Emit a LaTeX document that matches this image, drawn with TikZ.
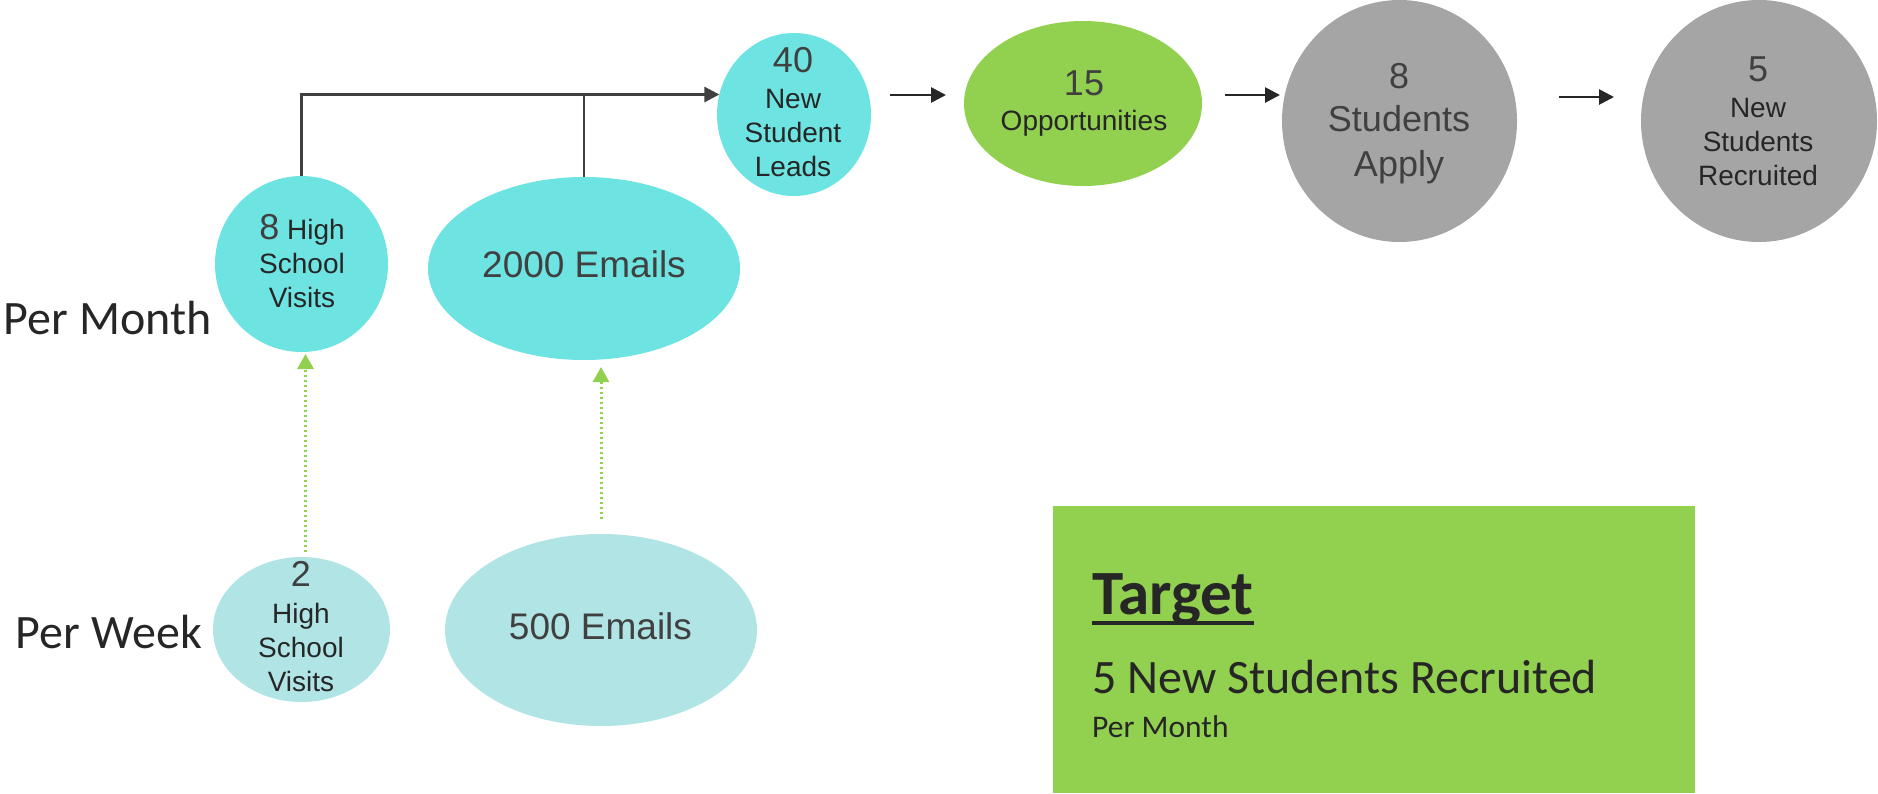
\documentclass[tikz,border=0pt]{standalone}
\usepackage{fontspec}
\setmainfont{Liberation Sans}
\newfontfamily\calibri{Carlito}
\usetikzlibrary{shapes.geometric,arrows.meta,calc}

\definecolor{leadcyan}{HTML}{6DE4E2}
\definecolor{weekcyan}{HTML}{B0E4E5}
\definecolor{limegreen}{HTML}{92D050}
\definecolor{stonegray}{HTML}{A5A5A5}
\definecolor{numc}{HTML}{404040}
\definecolor{wordc}{HTML}{262626}
\definecolor{busc}{HTML}{404040}
\definecolor{arrowc}{HTML}{262626}

% large figure at the top of each bubble
\newcommand\bignum[1]{{\fontsize{36}{36}\selectfont\color{numc}#1}}

\begin{document}
\begin{tikzpicture}[x=1pt,y=-1pt,
  blob/.style={ellipse, draw=none, inner sep=0pt, outer sep=0pt},
  txt/.style={inner sep=0pt, outer sep=0pt, align=center, text=wordc,
              font=\fontsize{28}{34}\selectfont},
  lbl/.style={inner sep=0pt, outer sep=0pt, text=wordc,
              font=\calibri\fontsize{48}{56}\selectfont},
  flow/.style={line width=2.7pt, draw=arrowc, -{Triangle[length=15pt,width=15pt]}},
  bus/.style={line width=2.7pt, draw=busc},
  dotflow/.style={line width=3pt, draw=limegreen, dash pattern=on 2.5pt off 2.5pt,
                  -{Triangle[length=15pt,width=16pt]}},
]
\useasboundingbox (0,0) rectangle (1878,793);

% ---- monthly bubbles ----
\node[blob, fill=leadcyan, minimum width=173pt, minimum height=176pt] (hsvm) at (301.5,264) {};
\node[txt, anchor=north] (hsvm-t) at (302,214) {\bignum{8} High\\School\\Visits};

\node[blob, fill=leadcyan, minimum width=312pt, minimum height=183pt] (m2000) at (584,268.5) {};
\node[txt, anchor=base, text=numc, font=\fontsize{37}{40}\selectfont] (m2000-t) at (584,277) {2000 Emails};

% ---- funnel ----
\node[blob, fill=leadcyan, minimum width=154pt, minimum height=163pt] (leads) at (794,114.5) {};
\node[txt, anchor=north] (leads-t) at (793,47) {\bignum{40}\\[2pt]New\\Student\\Leads};

\node[blob, fill=limegreen, minimum width=238pt, minimum height=165pt] (opp) at (1083,103.5) {};
\node[txt, anchor=north] (opp-t) at (1084,71) {\bignum{15}\\[1pt]Opportunities};

\node[blob, fill=stonegray, minimum width=235pt, minimum height=242pt] (apply) at (1399.5,121) {};
\node[txt, anchor=north, text=numc, font=\fontsize{36}{45}\selectfont] (apply-t) at (1399,63) {8\\[-2pt]Students\\Apply};

\node[blob, fill=stonegray, minimum width=236pt, minimum height=242pt] (recr) at (1759,121) {};
\node[txt, anchor=north] (recr-t) at (1758,57) {\bignum{5}\\[2pt]New\\Students\\Recruited};

% ---- weekly bubbles ----
\node[blob, fill=weekcyan, minimum width=177pt, minimum height=145pt] (hsvw) at (301.5,629.5) {};
\node[txt, anchor=north] (hsvw-t) at (301,561) {\bignum{2}\\[3pt]High\\School\\Visits};

\node[blob, fill=weekcyan, minimum width=312pt, minimum height=192pt] (m500) at (601,630) {};
\node[txt, anchor=base, text=numc, font=\fontsize{37}{40}\selectfont] (m500-t) at (600.5,639) {500 Emails};

% ---- row labels ----
\node[lbl, anchor=base west] (permonth) at (4,334) {Per Month};
\node[lbl, anchor=base west] (perweek) at (16,648) {Per Week};

% ---- connectors ----
\draw[bus, -{Triangle[length=15pt,width=15pt]}] (hsvm.north) |- (leads.165);
\draw[bus] (m2000.north) -- (m2000.north |- leads.165);

\draw[flow] ($(leads.east |- 0,95)+(19,0)$) -- ($(opp.west |- 0,95)+(-18,0)$);
\draw[flow] ($(opp.east |- 0,95)+(23,0)$) -- ($(apply.west |- 0,95)+(-2,0)$);
\draw[flow] ($(apply.east |- 0,97)+(42,0)$) -- ($(recr.west |- 0,97)+(-27,0)$);

\draw[dotflow, shorten <=5pt, shorten >=2pt] ([xshift=4pt]hsvw.north) -- ([xshift=4pt]hsvm.south);
\draw[dotflow, shorten <=15pt, shorten >=7pt] (m500.north) -- (m500.north |- m2000.south);

% ---- target panel ----
\node[fill=limegreen, draw=none, inner sep=0pt, minimum width=642pt, minimum height=287pt,
      anchor=north west] (tbox) at (1053,506) {};
\node[inner sep=0pt, anchor=base west, text=wordc,
      font=\calibri\bfseries\fontsize{63}{70}\selectfont] (tgt) at (1092,614) {Target};
\draw[line width=4pt, draw=wordc] ([yshift=-9pt]tgt.base west) -- ([yshift=-9pt]tgt.base east);
\node[inner sep=0pt, anchor=base west, text=wordc,
      font=\calibri\fontsize{48}{54}\selectfont] (tgoal) at (1092,693) {5 New Students Recruited};
\node[inner sep=0pt, anchor=base west, text=wordc,
      font=\calibri\fontsize{31.5}{36}\selectfont] (tper) at (1092,737) {Per Month};
\end{tikzpicture}
\end{document}
